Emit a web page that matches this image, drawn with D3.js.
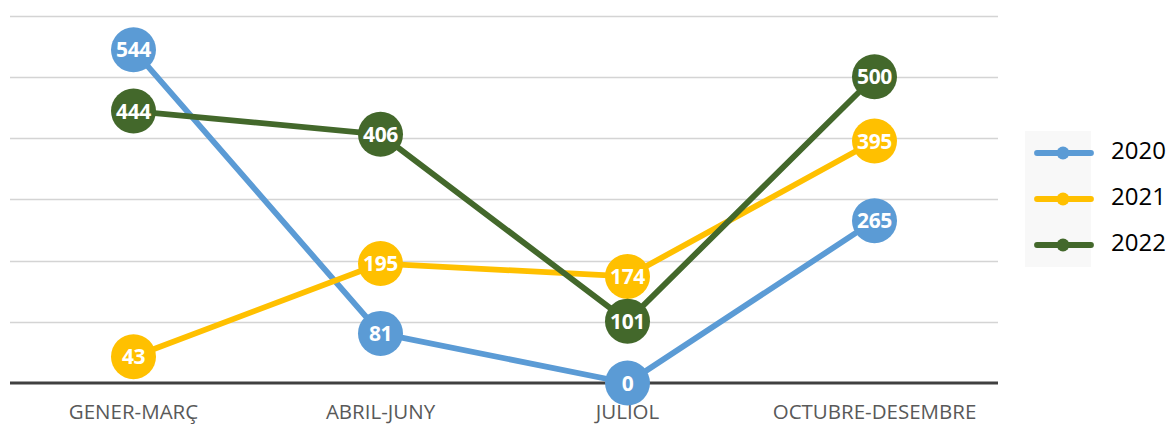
<!DOCTYPE html>
<html><head><meta charset="utf-8">
<script src="https://cdn.jsdelivr.net/npm/d3@7"></script>
<style>body{margin:0;background:#fff;}svg{display:block;}</style>
</head><body>
<svg id="c" width="1168" height="425"></svg>
<script>
const categories = ["GENER-MARÇ", "ABRIL-JUNY", "JULIOL", "OCTUBRE-DESEMBRE"];
const seriesNames = ["2020", "2021", "2022"];
const values2020 = [544, 81, 0, 265];
const values2021 = [43, 195, 174, 395];
const values2022 = [444, 406, 101, 500];
const colors = ["#5b9bd5", "#ffc000", "#43682b"];
const yTicks = [0, 100, 200, 300, 400, 500, 600];

(function () {
const series = [values2020, values2021, values2022];
const svg = d3.select("#c");
const mLeft = 10, mRight = 998, mTop = 15.5, mBottom = 383;
const x = d3.scaleBand().domain(categories).range([mLeft, mRight]);
const y = d3.scaleLinear().domain([0, 600]).range([mBottom, mTop]);

svg.append("g").selectAll("line").data(yTicks.filter(d => d > 0)).join("line")
  .attr("x1", mLeft).attr("x2", mRight)
  .attr("y1", d => Math.round(y(d)) + 0.5).attr("y2", d => Math.round(y(d)) + 0.5)
  .attr("stroke", "#d4d4d4").attr("stroke-width", 1.4);

svg.append("line").attr("x1", mLeft).attr("x2", mRight)
  .attr("y1", y(0)).attr("y2", y(0)).attr("stroke", "#404040").attr("stroke-width", 3.2);

const xAxis = svg.append("g").attr("transform", `translate(0,${mBottom})`)
  .call(d3.axisBottom(x).tickSize(0));
xAxis.select(".domain").remove();
xAxis.selectAll("text").attr("y", 35.5).attr("dy", 0)
  .attr("font-family", "'Open Sans', sans-serif").attr("font-size", 20.5)
  .attr("fill", "#595959");

const cx = d => x(d) + x.bandwidth() / 2;
series.forEach((vals, i) => {
  const pts = categories.map((c, j) => [cx(c), y(vals[j])]);
  svg.append("path").attr("d", d3.line()(pts)).attr("fill", "none")
    .attr("stroke", colors[i]).attr("stroke-width", 5.8).attr("stroke-linejoin", "round");
  const g = svg.append("g");
  g.selectAll("circle").data(pts).join("circle")
    .attr("cx", d => d[0]).attr("cy", d => d[1]).attr("r", 22.5).attr("fill", colors[i]);
  g.selectAll("text").data(vals).join("text")
    .attr("x", (d, j) => pts[j][0]).attr("y", (d, j) => pts[j][1]).attr("dy", "0.36em")
    .attr("text-anchor", "middle").attr("font-family", "'Open Sans', sans-serif")
    .attr("font-weight", "bold").attr("font-size", 21).attr("fill", "#fff")
    .attr("letter-spacing", -0.4).text(d => d);
});

const leg = svg.append("g");
leg.append("rect").attr("x", 1025).attr("y", 131).attr("width", 66).attr("height", 136).attr("fill", "#f8f8f8");
seriesNames.forEach((s, i) => {
  const ly = 153 + i * 46;
  leg.append("line").attr("x1", 1037).attr("x2", 1091).attr("y1", ly).attr("y2", ly)
    .attr("stroke", colors[i]).attr("stroke-width", 5.8).attr("stroke-linecap", "round");
  leg.append("line").attr("x1", 1086).attr("x2", 1091).attr("y1", ly).attr("y2", ly)
    .attr("stroke", colors[i]).attr("stroke-width", 5.8);
  leg.append("circle").attr("cx", 1063).attr("cy", ly).attr("r", 6.5).attr("fill", colors[i]);
  leg.append("text").attr("x", 1111).attr("y", ly - 2).attr("dy", "0.35em")
    .attr("font-family", "'Open Sans', sans-serif").attr("font-size", 24).attr("fill", "#000").text(s);
});
})();
</script>
</body></html>
